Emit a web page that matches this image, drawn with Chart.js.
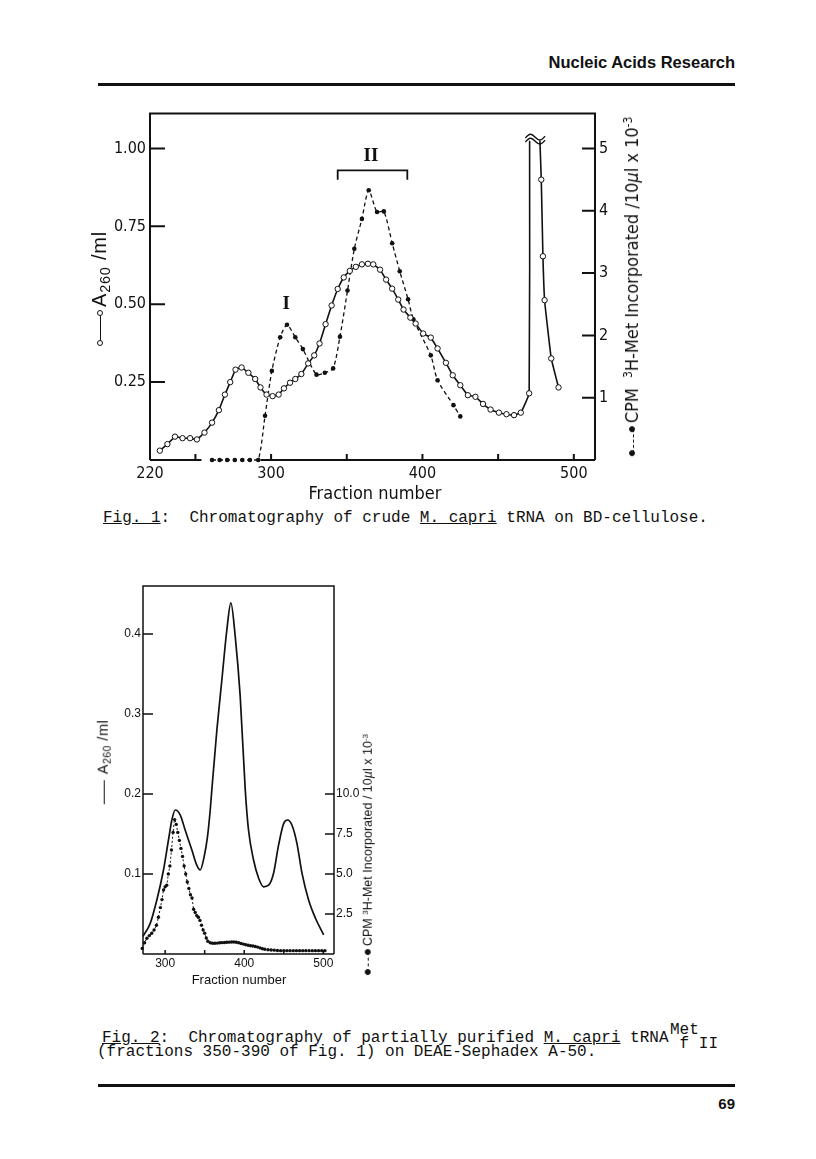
<!DOCTYPE html>
<html>
<head>
<meta charset="utf-8">
<script src="https://cdn.jsdelivr.net/npm/chart.js@4.4.0/dist/chart.umd.min.js"></script>
<style>
body { margin:0; background:#fff; }
#page { position:relative; width:816px; height:1159px; overflow:hidden; color:#111; font-family:'Liberation Sans', sans-serif; background:#fff; }
.abs { position:absolute; white-space:nowrap; line-height:1; }
.rule { position:absolute; left:98px; width:637px; height:2px; background:#111; }
.mono { font-family:'Liberation Mono', 'DejaVu Sans Mono', monospace; font-size:16px; white-space:pre; }
.narrow { font-family:'Liberation Sans Narrow', 'DejaVu Sans Condensed', 'Liberation Sans', sans-serif; }
.vert { position:absolute; white-space:nowrap; line-height:1; transform:translate(-50%,-50%) rotate(-90deg); }
.vert sub { font-size:72%; vertical-align:-0.3em; line-height:0; }
.vert sup { font-size:65%; vertical-align:0.55em; line-height:0; }
canvas { position:absolute; }
.mk { display:inline-block; position:relative; height:0; vertical-align:middle; margin-right:6px; }
.mk.open { border-top:1.6px solid #111; }
.mk.closed { border-top:1.4px dashed #111; }
.mk.solid { border-top:1.6px solid #111; }
.mk.open::before, .mk.open::after, .mk.closed::before, .mk.closed::after {
  content:''; position:absolute; top:-4.2px; width:4px; height:4px; border:1.2px solid #111; border-radius:50%; background:#fff;
}
.mk.closed::before, .mk.closed::after { background:#111; }
.mk::before { left:-3px; }
.mk::after { right:-3px; }
.mk.solid::before, .mk.solid::after { display:none; }
</style>
</head>
<body>
<div id="page">
  <div class="abs" style="right:81px; top:54px; font-size:16.5px; font-weight:bold;">Nucleic Acids Research</div>
  <div class="rule" style="top:83px; height:2.5px;"></div>

  <canvas id="fig1" width="600" height="400" style="left:80px; top:100px;"></canvas>
  <div class="vert" style="left:99px; top:287px; font-size:20px; letter-spacing:0.8px;"><span class="mk open" style="width:30px"></span>A<sub>260</sub> /ml</div>
  <div class="vert narrow" style="left:632px; top:285px; font-size:18px;"><span class="mk closed" style="width:24px"></span>CPM &nbsp;<sup>3</sup>H-Met Incorporated /10<i>µ</i>l x 10<sup>-3</sup></div>
  <div class="abs narrow" style="left:375px; top:493px; font-size:18px; transform:translate(-50%,-50%);">Fraction number</div>
  <div class="abs mono" style="left:103px; top:510px;"><u>Fig. 1</u>:  Chromatography of crude <u>M. capri</u> tRNA on BD-cellulose.</div>

  <canvas id="fig2" width="260" height="400" style="left:100px; top:575px;"></canvas>
  <div class="vert" style="left:103px; top:762px; font-size:14.5px; letter-spacing:0.5px;"><span class="mk solid" style="width:24px"></span>A<sub>260</sub> /ml</div>
  <div class="vert" style="left:368px; top:853px; font-size:12.5px;"><span class="mk closed" style="width:20px"></span>CPM <sup>3</sup>H-Met Incorporated / 10<i>µ</i>l x 10<sup>-3</sup></div>
  <div class="abs" style="left:239px; top:979px; font-size:13px; transform:translate(-50%,-50%);">Fraction number</div>

  <div class="abs mono" style="left:102px; top:1030px;"><u>Fig. 2</u>:  Chromatography of partially purified <u>M. capri</u> tRNA</div>
  <div class="abs mono" style="left:670px; top:1022px;">Met</div>
  <div class="abs mono" style="left:670px; top:1036px;"> f II</div>
  <div class="abs mono" style="left:97px; top:1044px;">(fractions 350-390 of Fig. 1) on DEAE-Sephadex A-50.</div>

  <div class="rule" style="top:1084px; height:2.5px;"></div>
  <div class="abs" style="right:81px; top:1096px; font-size:15px; font-weight:bold;">69</div>
</div>

<script>
// ---- Fig. 1: BD-cellulose ----
// A260 (open circles, left axis)
const a260Frac1 = [226.5, 231.5, 236.5, 241.5, 246.5, 251, 256, 261, 265.5, 269.5, 273, 276.5, 280.5, 285, 289.5,
  293, 297, 301, 305, 308.5, 312.5, 316, 320, 324.5, 328.5, 332, 336, 340, 344, 348, 352, 356, 360, 364, 367.5,
  372, 376, 380, 384, 387.5, 392, 395.5, 400.5, 405.5, 410, 415.5, 420, 425, 430, 435, 440, 445, 450.5, 455.5,
  460.5, 465, 470.5, 470.8, 474, 477.6, 478.5, 479.6, 480.7, 485.1, 489.9];
const a260Fig1 = [0.03, 0.051, 0.075, 0.07, 0.07, 0.066, 0.088, 0.12, 0.16, 0.21, 0.25, 0.29, 0.297, 0.28, 0.26,
  0.233, 0.21, 0.205, 0.21, 0.23, 0.248, 0.26, 0.276, 0.31, 0.336, 0.374, 0.436, 0.496, 0.549, 0.586, 0.607, 0.62, 0.628, 0.63, 0.628,
  0.611, 0.579, 0.55, 0.515, 0.483, 0.457, 0.438, 0.406, 0.393, 0.358, 0.312, 0.272, 0.24, 0.208, 0.203, 0.18, 0.162, 0.152, 0.147,
  0.144, 0.152, 0.214, 1.025, null, 1.025, 0.90, 0.654, 0.513, 0.326, 0.233];
// CPM 3H-Met (closed circles, right axis)
const cpmFrac1 = [261, 266, 271, 276, 281, 286, 291.5, 296, 300.5, 306, 310.5, 316, 321, 330, 335.5, 341, 345.5,
  350.5, 355, 360, 364.5, 370, 374.5, 380, 385, 390.5, 394, 405.5, 410, 420.5, 425];
const cpmFig1 = [0, 0, 0, 0, 0, 0, 0, 0.71, 1.43, 1.97, 2.17, 1.97, 1.78, 1.37, 1.40, 1.47, 1.98,
  2.72, 3.39, 3.87, 4.33, 3.98, 3.99, 3.48, 3.03, 2.58, 2.26, 1.68, 1.28, 0.88, 0.70];
const xLabels1 = [220, 300, 400, 500];
const xMarks1 = [250, 300, 350, 400, 450, 500];
const yLabels1 = [0.25, 0.5, 0.75, 1.0];
const y2Labels1 = [1, 2, 3, 4, 5];
const peakNames = [{ text: 'I', x: 310, y: 0.50 }, { text: 'II', x: 366, y: 0.975 }];
const bracketII = { from: 344, to: 390, y: 0.93, drop: 0.03 };
const axisBreak = { from: 468, to: 481, y: 1.03 };

// ---- Fig. 2: DEAE-Sephadex ----
const a260Frac2 = [272, 281, 289.5, 297.9, 304.2, 308.5, 312.7, 319, 325.3, 333.8, 340, 344.3, 349.4, 353.6, 357, 359,
  365.4, 371.7, 378, 383.1, 388.6, 394.9, 401.3, 405.4, 411.8, 418.1, 424.4, 430.8, 437.1, 443.4, 449.8, 454.8,
  460.4, 466.7, 473, 481.4, 489.9, 500.4];
const a260Fig2 = [0.022, 0.038, 0.0675, 0.105, 0.1425, 0.1675, 0.18, 0.174, 0.155, 0.13, 0.111, 0.105, 0.122, 0.147, 0.18, 0.205,
  0.28, 0.3425, 0.405, 0.439, 0.397, 0.322, 0.205, 0.155, 0.1175, 0.095, 0.084, 0.086, 0.101, 0.136, 0.163, 0.1675,
  0.161, 0.138, 0.101, 0.0675, 0.045, 0.024];
const cpmFrac2 = [271, 274, 277, 280, 283, 286, 289, 291.5, 294, 296, 298, 300, 302, 304, 306, 308, 310, 312, 314, 316,
  318, 320, 322, 324, 326, 328, 330, 332, 334, 336, 338, 340, 342, 344, 346, 348, 350, 352, 354, 357,
  360, 363, 366, 369, 372, 375, 378, 381, 384, 387, 390, 393, 396, 399, 402, 405, 408, 411, 414, 417,
  420, 423, 426, 430, 434, 438, 442, 446, 450, 454, 458, 462, 466, 470, 474, 478, 482, 486, 490, 494, 498, 502];
const cpmFig2 = [0.35, 0.7, 0.98, 1.15, 1.3, 1.5, 1.8, 2.3, 2.9, 3.4, 4.0, 4.2, 4.3, 5.0, 5.5, 6.5, 7.6, 8.4, 8.1, 7.6,
  7.1, 6.6, 6.1, 5.5, 5.0, 4.5, 4.1, 3.7, 3.5, 2.8, 2.6, 2.4, 2.3, 2.1, 1.8, 1.5, 1.3, 1.0, 0.8, 0.7,
  0.67, 0.67, 0.68, 0.7, 0.71, 0.72, 0.73, 0.74, 0.75, 0.75, 0.73, 0.7, 0.66, 0.62, 0.58, 0.55, 0.52, 0.5, 0.47, 0.43,
  0.38, 0.33, 0.3, 0.27, 0.25, 0.24, 0.22, 0.21, 0.21, 0.21, 0.21, 0.21, 0.21, 0.21, 0.21, 0.21, 0.21, 0.21, 0.21, 0.21, 0.21, 0.21];
const xLabels2 = [300, 400, 500];
const xMarks2 = [300, 350, 400, 450, 500];
const yLabels2 = [0.1, 0.2, 0.3, 0.4];
const y2Labels2 = [2.5, 5.0, 7.5, 10.0];

const INK = '#111';
const NARROW = "'Liberation Sans Narrow', 'DejaVu Sans Condensed', 'Liberation Sans', sans-serif";

function pts(xs, ys) {
    return xs.map((x, i) => ({ x: x, y: ys[i] }));
}

// box round the plot, with the little inward ticks of the original
const framePlugin = {
    id: 'frame',
    afterDraw(chart, args, o) {
        const { ctx, chartArea: a, scales } = chart;
        ctx.save();
        ctx.strokeStyle = INK;
        ctx.lineWidth = o.width;
        ctx.beginPath();
        ctx.moveTo(a.left, a.bottom); ctx.lineTo(a.left, a.top);
        ctx.lineTo(a.right, a.top); ctx.lineTo(a.right, a.bottom);
        let start = a.left;
        for (const g of o.gaps) {
            ctx.moveTo(start, a.bottom);
            ctx.lineTo(scales.x.getPixelForValue(g[0]), a.bottom);
            start = scales.x.getPixelForValue(g[1]);
        }
        ctx.moveTo(start, a.bottom); ctx.lineTo(a.right, a.bottom);
        for (const v of o.xMarks) {
            const x = scales.x.getPixelForValue(v);
            ctx.moveTo(x, a.bottom); ctx.lineTo(x, a.bottom - o.lenX);
        }
        for (const v of o.yMarks) {
            const y = scales.y.getPixelForValue(v);
            ctx.moveTo(a.left, y); ctx.lineTo(a.left + o.lenY, y);
        }
        for (const v of o.y2Marks) {
            const y = scales.y2.getPixelForValue(v);
            ctx.moveTo(a.right, y); ctx.lineTo(a.right - o.lenY2, y);
        }
        ctx.stroke();
        ctx.restore();
    }
};

function scalesFor(cfg) {
    const common = (vals, fmt, size) => ({
        grid: { display: false, drawTicks: false },
        border: { display: false },
        afterBuildTicks: s => { s.ticks = vals.map(v => ({ value: v })); },
        ticks: { autoSkip: false, maxRotation: 0, color: INK, font: { family: cfg.font, size: size }, callback: fmt, padding: cfg.pad }
    });
    return {
        x: Object.assign(common(cfg.xLabels, v => String(v), cfg.size), { type: 'linear', min: cfg.x[0], max: cfg.x[1], afterFit: s => { s.height = cfg.hx; } }),
        y: Object.assign(common(cfg.yLabels, cfg.yFmt, cfg.size), { position: 'left', min: 0, max: cfg.y, afterFit: s => { s.width = cfg.wy; } }),
        y2: Object.assign(common(cfg.y2Labels, cfg.y2Fmt, cfg.size), { position: 'right', min: 0, max: cfg.y2, afterFit: s => { s.width = cfg.wy2; } })
    };
}

const fig1Notes = {
    id: 'fig1Notes',
    afterDatasetsDraw(chart) {
        const { ctx, scales: { x, y } } = chart;
        ctx.save();
        ctx.fillStyle = INK; ctx.strokeStyle = INK;
        ctx.font = "bold 19px 'Liberation Serif', serif";
        ctx.textAlign = 'center'; ctx.textBaseline = 'middle';
        for (const p of peakNames) ctx.fillText(p.text, x.getPixelForValue(p.x), y.getPixelForValue(p.y));
        ctx.lineWidth = 1.8;
        ctx.beginPath();
        const bx0 = x.getPixelForValue(bracketII.from), bx1 = x.getPixelForValue(bracketII.to);
        const by = y.getPixelForValue(bracketII.y), byd = y.getPixelForValue(bracketII.y - bracketII.drop);
        ctx.moveTo(bx0, byd); ctx.lineTo(bx0, by); ctx.lineTo(bx1, by); ctx.lineTo(bx1, byd);
        ctx.stroke();
        // break mark at the top of the off-scale peak
        const kx0 = x.getPixelForValue(axisBreak.from), kx1 = x.getPixelForValue(axisBreak.to);
        const ky = y.getPixelForValue(axisBreak.y);
        ctx.lineWidth = 1.4;
        for (const dy of [-2, 2]) {
            const w = (kx1 - kx0) / 2;
            ctx.beginPath();
            ctx.moveTo(kx0, ky + dy + 1);
            ctx.bezierCurveTo(kx0 + w * 0.4, ky + dy - 4, kx0 + w * 0.6, ky + dy - 4, kx0 + w, ky + dy);
            ctx.bezierCurveTo(kx0 + w * 1.4, ky + dy + 4, kx0 + w * 1.6, ky + dy + 4, kx1, ky + dy - 1);
            ctx.stroke();
        }
        ctx.restore();
    }
};

const openRadius1 = a260Fig1.map(v => (v === null || v > 1) ? 0 : 2.7);

new Chart(document.getElementById('fig1'), {
    type: 'line',
    data: {
        datasets: [
            { label: 'A260', yAxisID: 'y', data: pts(a260Frac1, a260Fig1), borderColor: INK, borderWidth: 1.6,
              pointRadius: openRadius1, pointBackgroundColor: '#fff', pointBorderColor: INK, pointBorderWidth: 1,
              tension: 0.1, spanGaps: false, clip: 8 },
            { label: 'CPM', yAxisID: 'y2', data: pts(cpmFrac1, cpmFig1), borderColor: INK, borderWidth: 1.3,
              borderDash: [4, 3], pointRadius: 2.3, pointBackgroundColor: INK, pointBorderWidth: 0,
              tension: 0.25, clip: 8 }
        ]
    },
    options: {
        responsive: false, animation: false,
        layout: { padding: { top: 13 } },
        plugins: {
            legend: { display: false }, tooltip: { enabled: false },
            frame: { width: 2, gaps: [[254, 293]], xMarks: xMarks1, yMarks: yLabels1, y2Marks: y2Labels1, lenX: 6, lenY: 15, lenY2: 13 }
        },
        scales: scalesFor({ font: NARROW, size: 16, pad: 4, x: [220, 514], y: 1.112, y2: 5.56,
            xLabels: xLabels1, yLabels: yLabels1, y2Labels: y2Labels1,
            yFmt: v => v.toFixed(2), y2Fmt: v => String(v), hx: 40, wy: 70, wy2: 85 })
    },
    plugins: [framePlugin, fig1Notes]
});

new Chart(document.getElementById('fig2'), {
    type: 'line',
    data: {
        datasets: [
            { label: 'A260', yAxisID: 'y', data: pts(a260Frac2, a260Fig2), borderColor: INK, borderWidth: 1.7,
              pointRadius: 0, cubicInterpolationMode: 'monotone', clip: 4 },
            { label: 'CPM', yAxisID: 'y2', data: pts(cpmFrac2, cpmFig2), borderColor: INK, borderWidth: 1,
              borderDash: [2, 2], pointRadius: 1.7, pointBackgroundColor: INK, pointBorderWidth: 0,
              tension: 0.2, clip: 6 }
        ]
    },
    options: {
        responsive: false, animation: false,
        layout: { padding: { top: 11 } },
        plugins: {
            legend: { display: false }, tooltip: { enabled: false },
            frame: { width: 1.5, gaps: [], xMarks: xMarks2, yMarks: yLabels2, y2Marks: y2Labels2, lenX: 4, lenY: 10, lenY2: 9 }
        },
        scales: scalesFor({ font: "'Liberation Sans', sans-serif", size: 12, pad: 2, x: [272, 513.5], y: 0.46, y2: 23,
            xLabels: xLabels2, yLabels: yLabels2, y2Labels: y2Labels2,
            yFmt: v => v.toFixed(1), y2Fmt: v => v.toFixed(1), hx: 21, wy: 43, wy2: 26 })
    },
    plugins: [framePlugin]
});
</script>
</body>
</html>
